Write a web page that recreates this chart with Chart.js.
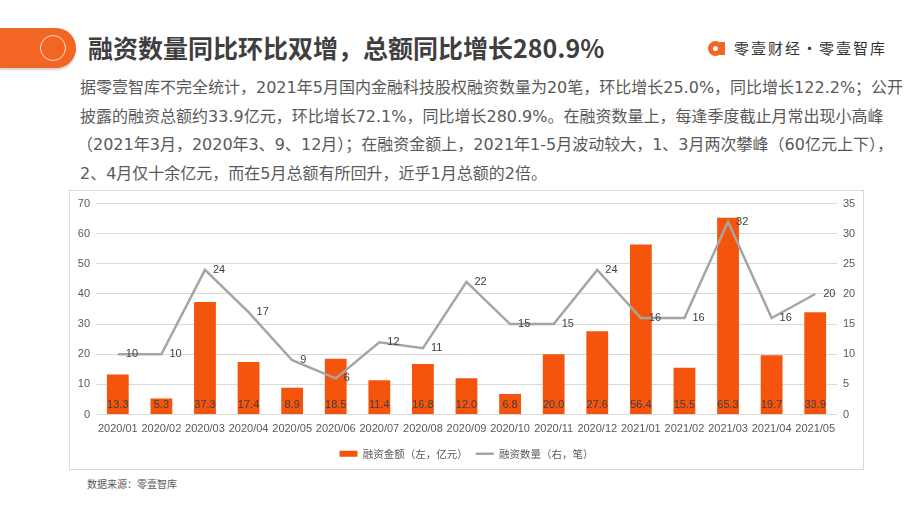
<!DOCTYPE html>
<html>
<head>
<meta charset="utf-8">
<script src="https://cdn.jsdelivr.net/npm/chart.js@4.4.0/dist/chart.umd.min.js"></script>
<style>
  html, body { margin: 0; padding: 0; background: #ffffff; }
  body { width: 920px; height: 518px; position: relative; overflow: hidden;
         font-family: "Noto Sans CJK SC", "Noto Sans", sans-serif; }
  #hbar { position: absolute; left: 0; top: 28px; width: 76px; height: 40px; background: #F26522;
          border-radius: 0 20px 20px 0; box-shadow: 0 2px 2px rgba(0,0,0,0.18); }
  #hcirc { position: absolute; left: 40px; top: 7px; width: 24px; height: 24px; border-radius: 50%;
           border: 1.5px solid #FCE3D2; }
  #title { position: absolute; left: 88px; top: 30px; font-size: 25px; font-weight: 700; color: #3F3F3F;
           white-space: nowrap; line-height: 34px; }
  #logo { position: absolute; left: 707px; top: 38px; width: 20px; height: 20px; }
  #logotext { position: absolute; left: 734px; top: 37px; font-size: 15px; color: #333333; letter-spacing: 2px;
              white-space: nowrap; line-height: 22px; }
  .para { position: absolute; left: 80px; font-size: 16px; color: #595959; white-space: nowrap; line-height: 22px;
          font-family: "DejaVu Sans", "Noto Sans CJK SC", sans-serif; }
  #box { position: absolute; left: 69px; top: 190px; width: 793px; height: 278px; border: 1px solid #D9D9D9; }
  #src { position: absolute; left: 87px; top: 477px; font-size: 10px; color: #595959; white-space: nowrap; line-height: 14px; }
</style>
</head>
<body>
<div id="hbar"><div id="hcirc"></div></div>
<div id="title">融资数量同比环比双增，总额同比增长280.9%</div>
<svg id="logo" viewBox="0 0 20 20">
  <circle cx="8.5" cy="10.5" r="5" fill="none" stroke="#F26522" stroke-width="5"/>
  <rect x="13" y="4" width="5" height="13" fill="#F26522"/>
</svg>
<div id="logotext">零壹财经·零壹智库</div>
<div class="para" style="top:77px">据零壹智库不完全统计，2021年5月国内金融科技股权融资数量为20笔，环比增长25.0%，同比增长122.2%；公开</div>
<div class="para" style="top:106px">披露的融资总额约33.9亿元，环比增长72.1%，同比增长280.9%。在融资数量上，每逢季度截止月常出现小高峰</div>
<div class="para" style="top:134px; left:77px">（2021年3月，2020年3、9、12月）；在融资金额上，2021年1-5月波动较大，1、3月两次攀峰（60亿元上下），</div>
<div class="para" style="top:163px">2、4月仅十余亿元，而在5月总额有所回升，近乎1月总额的2倍。</div>
<div id="box"><canvas id="c" width="793" height="278"></canvas></div>
<div id="src">数据来源：零壹智库</div>
<script>
const categories = ["2020/01","2020/02","2020/03","2020/04","2020/05","2020/06","2020/07","2020/08","2020/09","2020/10","2020/11","2020/12","2021/01","2021/02","2021/03","2021/04","2021/05"];
const amountValues = [13.3, 5.3, 37.3, 17.4, 8.9, 18.5, 11.4, 16.8, 12.0, 6.8, 20.0, 27.6, 56.4, 15.5, 65.3, 19.7, 33.9];
const countValues = [10, 10, 24, 17, 9, 6, 12, 11, 22, 15, 15, 24, 16, 16, 32, 16, 20];
const amountLabel = "融资金额（左，亿元）";
const countLabel = "融资数量（右，笔）";
const leftAxis = { min: 0, max: 70, step: 10 };
const rightAxis = { min: 0, max: 35, step: 5 };

const tickFont = { family: "'Liberation Sans', 'Noto Sans', sans-serif", size: 11 };

const labelPlugin = {
  id: 'valueLabels',
  afterDatasetsDraw(chart) {
    const ctx = chart.ctx;
    ctx.save();
    ctx.font = "11px 'Liberation Sans', 'Noto Sans', sans-serif";
    ctx.fillStyle = '#404040';
    const barMeta = chart.getDatasetMeta(0);
    const yBottom = chart.scales.y.getPixelForValue(0);
    ctx.textAlign = 'center';
    ctx.textBaseline = 'middle';
    barMeta.data.forEach((el, i) => {
      ctx.fillText(amountValues[i].toFixed(1), el.x, yBottom - 10);
    });
    const lineMeta = chart.getDatasetMeta(1);
    ctx.textAlign = 'left';
    lineMeta.data.forEach((el, i) => {
      ctx.fillText(String(countValues[i]), el.x + 8, el.y);
    });
    ctx.restore();
  }
};

new Chart(document.getElementById('c'), {
  data: {
    labels: categories,
    datasets: [
      { type: 'bar', label: amountLabel, data: amountValues, backgroundColor: '#F4540C', borderWidth: 0,
        yAxisID: 'y', order: 1, barPercentage: 0.5, categoryPercentage: 1.0, pointStyle: 'rect' },
      { type: 'line', label: countLabel, data: countValues, borderColor: '#A5A5A5', backgroundColor: '#A5A5A5',
        borderWidth: 2.5, pointRadius: 0, tension: 0, yAxisID: 'y1', order: 0, pointStyle: 'line' }
    ]
  },
  options: {
    responsive: false,
    animation: false,
    layout: { padding: { left: 0, right: 0, top: 12, bottom: 0 } },
    plugins: {
      tooltip: { enabled: false },
      legend: {
        position: 'bottom',
        labels: {
          usePointStyle: true, pointStyleWidth: 18, boxHeight: 6,
          color: '#595959', font: { family: "'Noto Sans CJK SC', sans-serif", size: 10.5 }, padding: 8,
          sort: (a, b) => a.datasetIndex - b.datasetIndex
        }
      }
    },
    scales: {
      x: {
        grid: { display: false }, border: { display: false },
        ticks: { color: '#595959', font: tickFont, padding: 0, maxRotation: 0, autoSkip: false },
        afterFit(s) { s.height = 26; }
      },
      y: {
        position: 'left', min: leftAxis.min, max: leftAxis.max,
        grid: { color: '#D9D9D9', drawTicks: false }, border: { display: false },
        ticks: { stepSize: leftAxis.step, color: '#595959', font: tickFont, padding: 6 },
        afterFit(s) { s.width = 26; }
      },
      y1: {
        position: 'right', min: rightAxis.min, max: rightAxis.max,
        grid: { display: false, drawTicks: false }, border: { display: false },
        ticks: { stepSize: rightAxis.step, color: '#595959', font: tickFont, padding: 6 },
        afterFit(s) { s.width = 26; }
      }
    }
  },
  plugins: [labelPlugin]
});
</script>
</body>
</html>
